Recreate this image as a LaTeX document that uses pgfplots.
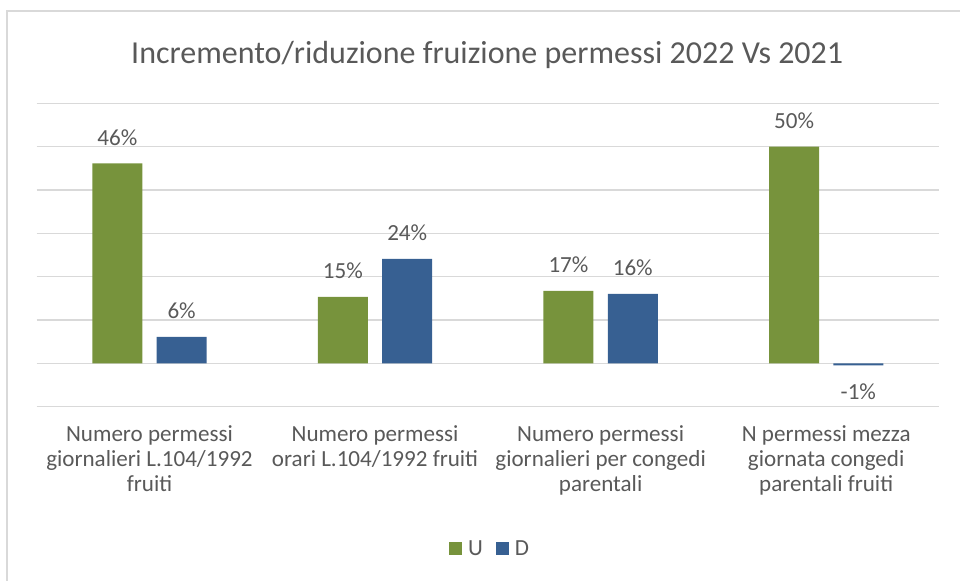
\documentclass[border=0pt]{standalone}
\usepackage{pgfplots}
\pgfplotsset{compat=1.18}
\usepackage{fontspec}
\setmainfont{Carlito}
\definecolor{cgreen}{HTML}{77933C}
\definecolor{cblue}{HTML}{376092}
\definecolor{ctext}{HTML}{595959}
\definecolor{cgrid}{HTML}{D9D9D9}
\pgfplotstableread{
x y l
0 46.1 46
1 15.3 15
2 16.7 17
3 50.0 50
}\tabU
\pgfplotstableread{
x y l
0 6.1 6
1 24.1 24
2 16.0 16
3 -0.5 -1
}\tabD
\begin{document}
\begin{tikzpicture}[x=0.75pt,y=0.75pt]
\useasboundingbox (0,0) rectangle (960,581);
\draw[cgrid, line width=1.1pt] (7,-5) -- (7,570) -- (965,570);
\node[text=ctext, font=\fontsize{24}{28}\selectfont, anchor=base] at (487.2,517.7) {Incremento/riduzione fruizione permessi 2022 Vs 2021};
\begin{axis}[
  at={(27.525pt,130.8pt)}, anchor=south west,
  scale only axis, width=676.7pt, height=227.5pt,
  xmin=-0.5, xmax=3.5, ymin=-10, ymax=60,
  ytick={-10,0,...,60}, yticklabels={},
  xtick={0,1,2,3},
  xticklabels={{Numero permessi\\giornalieri L.104/1992\\fruiti},{Numero permessi\\orari L.104/1992 fruiti},{Numero permessi\\giornalieri per congedi\\parentali},{N permessi mezza\\giornata congedi\\parentali fruiti}},
  xticklabel style={font=\fontsize{17.3}{18.75}\selectfont, text=ctext, align=center, yshift=-10.4pt},
  major tick length=0pt,
  ymajorgrids, grid style={cgrid, line width=1pt},
  axis line style={draw=none},
  ybar, bar width=37.5pt,
  clip=false,
  point meta=explicit,
  nodes near coords={\pgfmathprintnumber[fixed,precision=0,assume math mode=true]{\pgfplotspointmeta}\%},
  nodes near coords align=vertical,
  every node near coord/.append style={font=\fontsize{17.3}{20}\selectfont, text=ctext, inner ysep=13.5pt},
  legend style={at={(0.503,-0.469)}, anchor=center, draw=none, fill=none, font=\fontsize{17.3}{20}\selectfont, text=ctext, legend columns=2, /tikz/every even column/.append style={column sep=8pt}},
  legend image code/.code={\fill[#1] (0pt,-4.875pt) rectangle (9.75pt,4.875pt); \path (12pt,0pt);},
]
\addplot[fill=cgreen, draw=none, bar shift=-24.1pt] table[x=x, y=y, meta=l] {\tabU};
\addplot[fill=cblue, draw=none, bar shift=24.1pt] table[x=x, y=y, meta=l] {\tabD};
\legend{U,D}
\end{axis}
\end{tikzpicture}
\end{document}
